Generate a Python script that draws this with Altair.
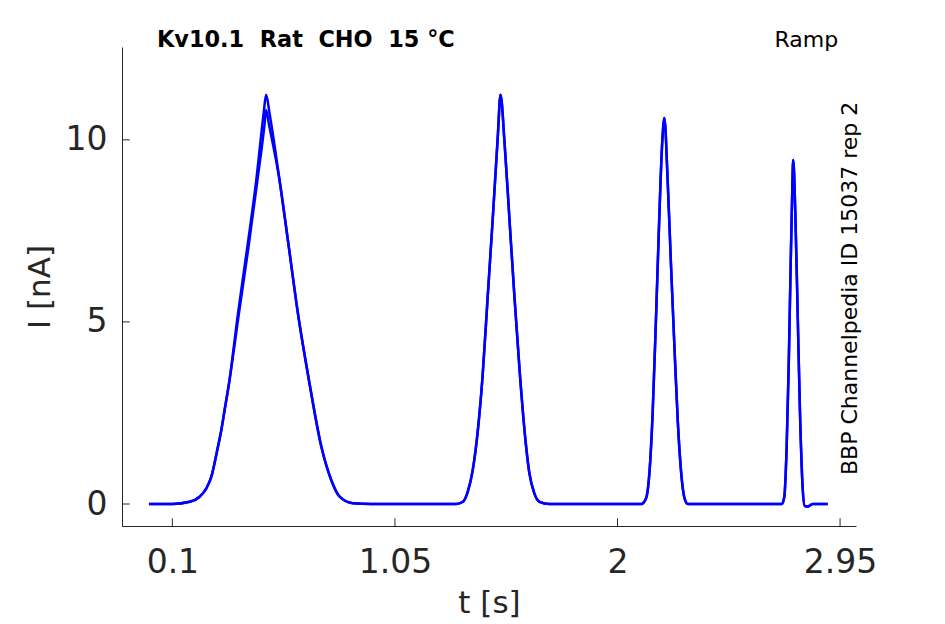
import altair as alt
import pandas as pd

# ---- data (time in s, current in nA) ----
base0_t = [0.0, 0.10, 0.174]
base0_i = [0.0, 0.0, 0.06]

peak1a_t = [0.2165, 0.245, 0.2664, 0.280, 0.2945, 0.309, 0.323, 0.3415, 0.380, 0.420,
            0.458, 0.4895, 0.500, 0.515, 0.5575, 0.597, 0.636, 0.683, 0.736, 0.778,
            0.814, 0.870]
peak1a_i = [0.20, 0.43, 0.75, 1.12, 1.57, 2.03, 2.58, 3.30, 5.23, 7.06,
            8.89, 10.72, 11.24, 10.72, 8.89, 7.06, 5.23, 3.40, 1.57, 0.66,
            0.20, 0.02]

peak1b_t = [0.2165, 0.245, 0.2664, 0.280, 0.2945, 0.309, 0.323, 0.3415, 0.384, 0.425,
            0.463, 0.493, 0.500, 0.513, 0.5575, 0.597, 0.636, 0.683, 0.736, 0.778,
            0.814, 0.870]
peak1b_i = [0.20, 0.43, 0.75, 1.12, 1.57, 2.03, 2.58, 3.30, 5.23, 7.06,
            8.89, 10.40, 10.82, 10.40, 8.89, 7.06, 5.23, 3.40, 1.57, 0.66,
            0.20, 0.02]

base1_t = [0.95, 1.20, 1.3116]
base1_i = [0.0, 0.0, 0.0]

peak2_t = [1.340, 1.361, 1.382, 1.404, 1.425, 1.446, 1.468, 1.489, 1.5006, 1.518,
           1.539, 1.560, 1.582, 1.603, 1.624, 1.645, 1.667, 1.709]
peak2_i = [0.06, 0.34, 0.93, 2.03, 3.59, 5.70, 7.89, 10.09, 11.24, 9.91,
           7.80, 5.70, 3.68, 2.03, 0.84, 0.29, 0.06, 0.0]

base2_t = [1.90, 2.101]
base2_i = [0.0, 0.0]

peak3_t = [2.122, 2.136, 2.150, 2.165, 2.179, 2.190, 2.200, 2.214, 2.228, 2.243,
           2.257, 2.272, 2.286, 2.300]
peak3_i = [0.16, 0.84, 2.49, 5.24, 7.99, 9.82, 10.60, 8.90, 6.61, 4.32,
           2.31, 0.84, 0.16, 0.0]

base3_t = [2.50, 2.7016]
base3_i = [0.0, 0.0]

peak4_t = [2.712, 2.722, 2.731, 2.739, 2.746, 2.750, 2.759, 2.769, 2.779, 2.790,
           2.799, 2.812, 2.833, 2.897]
peak4_i = [0.20, 1.57, 3.86, 6.52, 8.63, 9.45, 7.99, 5.24, 2.49, 0.48,
           -0.05, -0.07, 0.0, 0.0]

x_ticks = [0.1, 1.05, 2, 2.95]
y_ticks = [0, 5, 10]

title_text = "Kv10.1\u00a0 Rat\u00a0 CHO\u00a0 15 °C"
protocol_text = "Ramp"
side_text = "BBP Channelpedia ID 15037 rep 2"

# ---- build table ----
t_a = base0_t + peak1a_t + base1_t + peak2_t + base2_t + peak3_t + base3_t + peak4_t
i_a = base0_i + peak1a_i + base1_i + peak2_i + base2_i + peak3_i + base3_i + peak4_i
t_b = base0_t + peak1b_t + base1_t + peak2_t + base2_t + peak3_t + base3_t + peak4_t
i_b = base0_i + peak1b_i + base1_i + peak2_i + base2_i + peak3_i + base3_i + peak4_i

df = pd.DataFrame({
    "t": t_a + t_b,
    "I": i_a + i_b,
    "trace": ["a"] * len(t_a) + ["b"] * len(t_b),
    "order": list(range(len(t_a))) + list(range(len(t_b))),
})

W, H = 734, 479
FONT = "DejaVu Sans"
INK = "#262626"

x_scale = alt.Scale(domain=[-0.115, 3.018], nice=False, zero=False)
y_scale = alt.Scale(domain=[-0.604, 12.55], nice=False, zero=False)

x_axis = alt.Axis(
    values=x_ticks, format=".3~g", title="t [s]",
    labelFont=FONT, labelFontSize=33, labelColor=INK,
    labelBaseline="alphabetic", labelPadding=46, labelFlush=False, labelOverlap=False,
    ticks=False, tickSize=0, grid=False,
    domainColor=INK, domainWidth=1,
    titleFont=FONT, titleFontSize=31, titleFontWeight="normal", titleColor=INK,
    titleBaseline="alphabetic", titleY=86, titleX=W / 2, titleAlign="center",
)
y_axis = alt.Axis(
    values=y_ticks, format="d", title="I [nA]",
    labelFont=FONT, labelFontSize=33, labelColor=INK,
    labelPadding=15, labelFlush=False, labelOverlap=False,
    ticks=False, tickSize=0, grid=False,
    domainColor=INK, domainWidth=1,
    titleFont=FONT, titleFontSize=31, titleFontWeight="normal", titleColor=INK,
    titleBaseline="alphabetic", titleAngle=270, titleX=-73, titleY=H / 2,
    titleAlign="center",
)

lines = alt.Chart(df).mark_line(
    color="#0000FF", strokeWidth=2.5, interpolate="monotone"
).encode(
    x=alt.X("t:Q", scale=x_scale, axis=x_axis),
    y=alt.Y("I:Q", scale=y_scale, axis=y_axis),
    detail="trace:N",
    order="order:Q",
)

xt = alt.Chart(pd.DataFrame({"t": x_ticks})).mark_rule(color=INK, strokeWidth=1).encode(
    x=alt.X("t:Q", scale=x_scale, axis=x_axis),
    y=alt.value(H), y2=alt.value(H - 7.7),
)
yt = alt.Chart(pd.DataFrame({"I": y_ticks})).mark_rule(color=INK, strokeWidth=1).encode(
    y=alt.Y("I:Q", scale=y_scale, axis=y_axis),
    x=alt.value(0), x2=alt.value(7.7),
)

title_mark = alt.Chart(pd.DataFrame({"s": [title_text]})).mark_text(
    font=FONT, fontSize=22.4, fontWeight="bold", color="#000000",
    align="left", baseline="alphabetic",
).encode(text="s:N", x=alt.value(35), y=alt.value(0))

ramp_mark = alt.Chart(pd.DataFrame({"s": [protocol_text]})).mark_text(
    font=FONT, fontSize=22, color="#000000", align="left", baseline="alphabetic",
).encode(text="s:N", x=alt.value(652.5), y=alt.value(0))

side_mark = alt.Chart(pd.DataFrame({"s": [side_text]})).mark_text(
    font=FONT, fontSize=22, color="#000000", align="left", baseline="alphabetic", angle=270,
).encode(text="s:N", x=alt.value(734.5), y=alt.value(428))

chart = alt.layer(lines, xt, yt, title_mark, ramp_mark, side_mark).properties(
    width=W, height=H,
    autosize=alt.AutoSizeParams(type="none"),
    padding={"left": 114, "top": 39, "right": 80, "bottom": 96},
    background="white",
).configure_view(stroke=None)

chart.save("out.html", embed_options={"renderer": "svg", "actions": False})
